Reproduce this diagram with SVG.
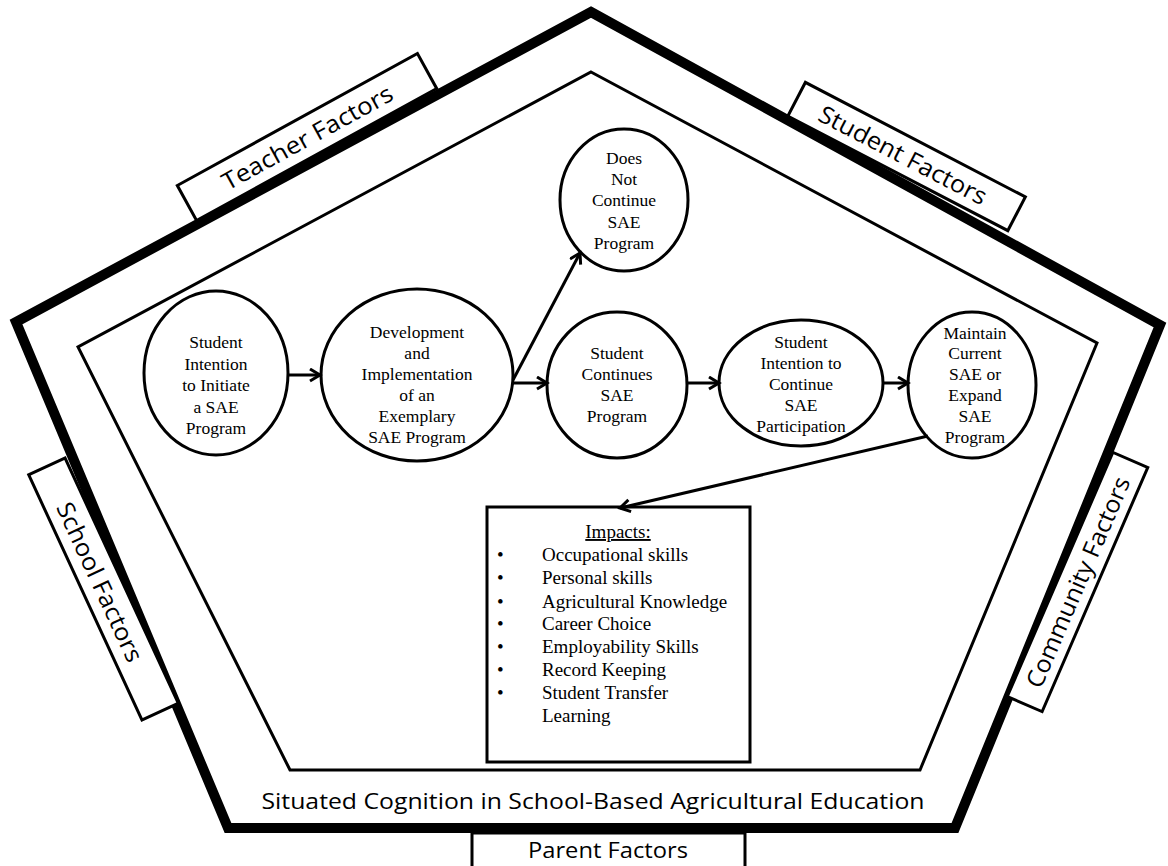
<svg xmlns="http://www.w3.org/2000/svg" width="1168" height="866" viewBox="0 0 1168 866">
<defs>
<style>
.bg{fill:#fff}
.outer{fill:none;stroke:#000;stroke-width:10;stroke-linejoin:miter}
.inner{fill:none;stroke:#000;stroke-width:3;stroke-linejoin:miter}
.box{fill:#fff;stroke:#000;stroke-width:3}
.node{fill:#fff;stroke:#000;stroke-width:3}
.serif{font-family:"Liberation Serif","Times New Roman",serif;font-size:17.5px;fill:#000;text-anchor:middle}
.imp{font-family:"Liberation Serif","Times New Roman",serif;font-size:19px;fill:#000}
.sans{font-family:"Open Sans","Liberation Sans",sans-serif;fill:#000;text-anchor:middle}
.conn{fill:none;stroke:#000;stroke-width:3}
</style>
<marker id="arr" markerUnits="userSpaceOnUse" markerWidth="16" markerHeight="16" refX="12" refY="7" orient="auto" viewBox="0 0 16 16">
<path d="M2,1 L12,7 L2,13" fill="none" stroke="#000" stroke-width="3"/>
</marker>
</defs>
<rect class="bg" x="0" y="0" width="1168" height="866"/>

<g id="frame">
<polygon class="outer" points="591,12 1160,325 955,828 228,828 16,322"/>
<polygon class="inner" points="591,72 1097,343 920,770 290,770 78,347"/>
<text class="sans" x="593" y="809" font-size="22" textLength="663" lengthAdjust="spacingAndGlyphs">Situated Cognition in School-Based Agricultural Education</text>
</g>

<g id="teacher-factors" transform="translate(307,137) rotate(-28.8)">
<rect class="box" x="-137" y="-20" width="274" height="40"/>
<text class="sans" x="0" y="9" font-size="24" textLength="191" lengthAdjust="spacingAndGlyphs">Teacher Factors</text>
</g>

<g id="student-factors" transform="translate(906.6,156.5) rotate(27.5)">
<rect class="box" x="-124" y="-19" width="248" height="38"/>
<text class="sans" x="-4" y="9" font-size="24" textLength="186" lengthAdjust="spacingAndGlyphs">Student Factors</text>
</g>

<g id="school-factors" transform="translate(103.5,589) rotate(65.2)">
<rect class="box" x="-135" y="-20" width="270" height="40"/>
<text class="sans" x="-8" y="9" font-size="24" textLength="173" lengthAdjust="spacingAndGlyphs">School Factors</text>
</g>

<g id="community-factors" transform="translate(1077.5,582) rotate(-66.6)">
<rect class="box" x="-133" y="-19" width="266" height="38"/>
<text class="sans" x="0" y="9" font-size="24" textLength="227" lengthAdjust="spacingAndGlyphs">Community Factors</text>
</g>

<g id="parent-factors">
<rect class="box" x="472" y="833" width="273" height="40"/>
<text class="sans" x="608" y="858" font-size="22" textLength="160" lengthAdjust="spacingAndGlyphs">Parent Factors</text>
</g>

<g id="n1">
<ellipse class="node" cx="216" cy="373" rx="72" ry="82"/>
<text class="serif"><tspan x="216" y="348">Student</tspan><tspan x="216" y="369.5">Intention</tspan><tspan x="216" y="391">to Initiate</tspan><tspan x="216" y="412.5">a SAE</tspan><tspan x="216" y="434">Program</tspan></text>
</g>

<g id="n2">
<ellipse class="node" cx="417" cy="375" rx="96" ry="86"/>
<text class="serif"><tspan x="417" y="338">Development</tspan><tspan x="417" y="359">and</tspan><tspan x="417" y="380">Implementation</tspan><tspan x="417" y="401">of  an</tspan><tspan x="417" y="422">Exemplary</tspan><tspan x="417" y="443">SAE Program</tspan></text>
</g>

<g id="n3">
<ellipse class="node" cx="624" cy="200" rx="64" ry="71"/>
<text class="serif"><tspan x="624" y="164">Does</tspan><tspan x="624" y="185">Not</tspan><tspan x="624" y="206">Continue</tspan><tspan x="624" y="228">SAE</tspan><tspan x="624" y="249">Program</tspan></text>
</g>

<g id="n4">
<ellipse class="node" cx="617" cy="385" rx="70" ry="73"/>
<text class="serif"><tspan x="617" y="359">Student</tspan><tspan x="617" y="380">Continues</tspan><tspan x="617" y="401">SAE</tspan><tspan x="617" y="422">Program</tspan></text>
</g>

<g id="n5">
<ellipse class="node" cx="801" cy="383" rx="82" ry="63"/>
<text class="serif"><tspan x="801" y="348">Student</tspan><tspan x="801" y="369">Intention to</tspan><tspan x="801" y="390">Continue</tspan><tspan x="801" y="411">SAE</tspan><tspan x="801" y="432">Participation</tspan></text>
</g>

<g id="n6">
<ellipse class="node" cx="972" cy="385" rx="64" ry="73"/>
<text class="serif"><tspan x="975" y="339">Maintain</tspan><tspan x="975" y="359">Current</tspan><tspan x="975" y="380">SAE or</tspan><tspan x="975" y="401">Expand</tspan><tspan x="975" y="422">SAE</tspan><tspan x="975" y="443">Program</tspan></text>
</g>

<g id="impacts">
<rect class="box" x="487" y="507" width="263" height="255"/>
<text class="imp" x="618" y="538" text-anchor="middle" text-decoration="underline">Impacts:</text>
<g class="imp">
<text x="497" y="561">•</text><text x="542" y="561">Occupational skills</text>
<text x="497" y="584">•</text><text x="542" y="584">Personal skills</text>
<text x="497" y="608">•</text><text x="542" y="608">Agricultural Knowledge</text>
<text x="497" y="630">•</text><text x="542" y="630">Career Choice</text>
<text x="497" y="653">•</text><text x="542" y="653">Employability Skills</text>
<text x="497" y="676">•</text><text x="542" y="676">Record Keeping</text>
<text x="497" y="699">•</text><text x="542" y="699">Student Transfer</text>
<text x="542" y="722">Learning</text>
</g>
</g>

<g id="connectors">
<line class="conn" x1="289" y1="375" x2="320" y2="375" marker-end="url(#arr)"/>
<line class="conn" x1="513" y1="380" x2="580" y2="253" marker-end="url(#arr)"/>
<line class="conn" x1="513" y1="383" x2="547" y2="383" marker-end="url(#arr)"/>
<line class="conn" x1="688" y1="383" x2="719" y2="383" marker-end="url(#arr)"/>
<line class="conn" x1="883" y1="383" x2="908" y2="383" marker-end="url(#arr)"/>
<line class="conn" x1="928" y1="436" x2="620" y2="508" marker-end="url(#arr)"/>
</g>
</svg>
